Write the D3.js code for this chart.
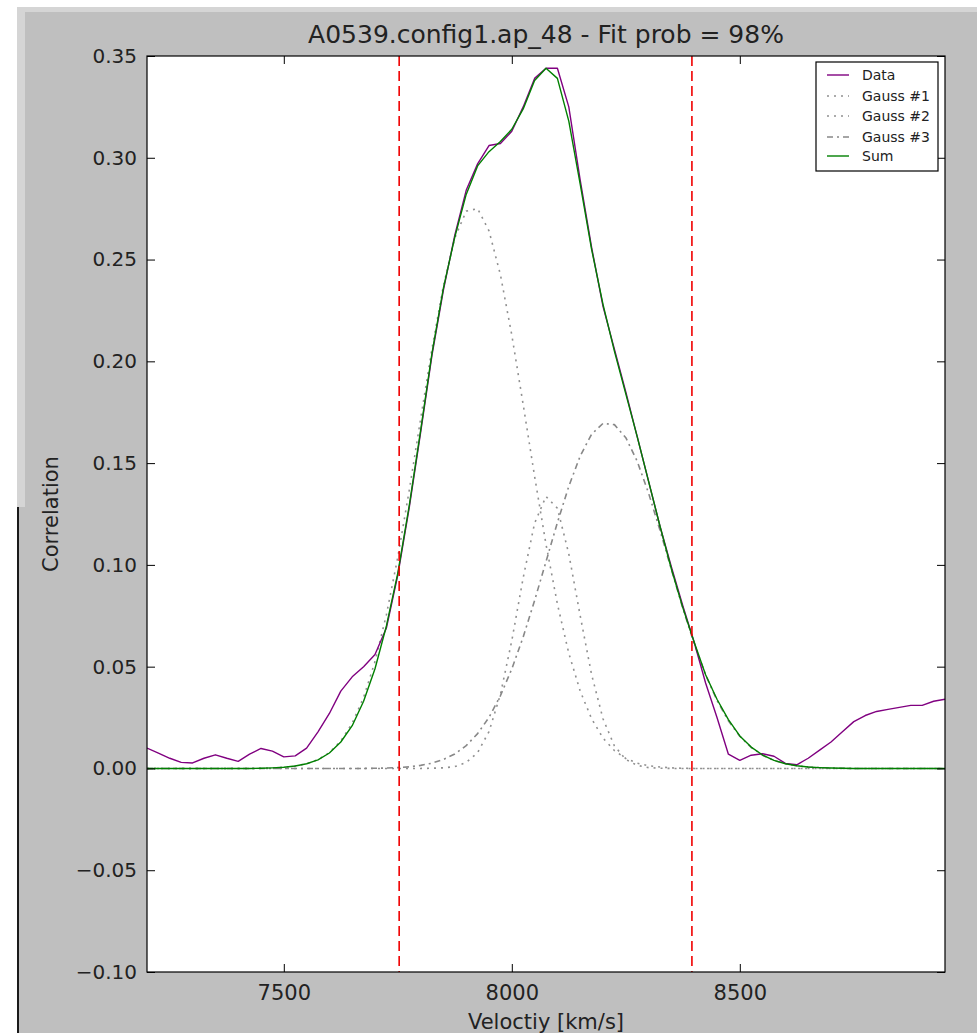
<!DOCTYPE html>
<html><head><meta charset="utf-8">
<script src="https://cdn.jsdelivr.net/npm/d3@7"></script>
<style>html,body{margin:0;padding:0;background:#fff;}svg{display:block;font-family:"DejaVu Sans",sans-serif;}</style>
</head><body>
<script>
const velocity = [7200,7225,7250,7275,7300,7325,7350,7375,7400,7425,7450,7475,7500,7525,7550,7575,7600,7625,7650,7675,7700,7725,7750,7775,7800,7825,7850,7875,7900,7925,7950,7975,8000,8025,8050,8075,8100,8125,8150,8175,8200,8225,8250,8275,8300,8325,8350,8375,8400,8425,8450,8475,8500,8525,8550,8575,8600,8625,8650,8675,8700,8725,8750,8775,8800,8825,8850,8875,8900,8925,8950];
const dataSeries = [0.010,0.0075,0.005,0.003,0.0027,0.005,0.0067,0.005,0.0035,0.007,0.0098,0.0085,0.0057,0.0062,0.010,0.018,0.027,0.038,0.045,0.050,0.056,0.069,0.095,0.128,0.165,0.203,0.235,0.262,0.284,0.297,0.306,0.307,0.313,0.325,0.339,0.344,0.344,0.325,0.289,0.256,0.227,0.206,0.185,0.163,0.141,0.119,0.099,0.080,0.062,0.042,0.025,0.007,0.004,0.0065,0.0072,0.006,0.0025,0.0018,0.005,0.009,0.013,0.018,0.023,0.026,0.028,0.029,0.030,0.031,0.031,0.033,0.034];
const gauss1 = [0,0,0,0,0,0,0,0,0,0,0.0001,0.0003,0.0006,0.0012,0.0023,0.0043,0.0078,0.0135,0.0222,0.0349,0.0525,0.0755,0.1038,0.1365,0.1716,0.2063,0.2371,0.2606,0.2738,0.2750,0.2641,0.2426,0.2129,0.1787,0.1435,0.1101,0.0808,0.0566,0.0380,0.0244,0.0149,0.0088,0.0049,0.0026,0.0013,0.0007,0.0003,0.0001,0,0,0,0,0,0,0,0,0,0,0,0,0,0,0,0,0,0,0,0,0,0,0];
const gauss2 = [0,0,0,0,0,0,0,0,0,0,0,0,0,0,0,0,0,0,0,0,0,0,0,0,0,0.0001,0.0003,0.0009,0.0029,0.0078,0.0181,0.0363,0.0628,0.0937,0.1205,0.1336,0.1278,0.1054,0.0750,0.0461,0.0244,0.0111,0.0044,0.0015,0.0004,0.0001,0,0,0,0,0,0,0,0,0,0,0,0,0,0,0,0,0,0,0,0,0,0,0,0,0];
const gauss3 = [0,0,0,0,0,0,0,0,0,0,0,0,0,0,0,0,0,0,0,0,0.0001,0.0002,0.0004,0.0008,0.0015,0.0026,0.0044,0.0071,0.0112,0.0171,0.0251,0.0357,0.0489,0.0646,0.0825,0.1016,0.1208,0.1386,0.1535,0.1642,0.1695,0.1689,0.1625,0.1509,0.1352,0.1170,0.0977,0.0787,0.0613,0.0460,0.0334,0.0234,0.0158,0.0103,0.0065,0.0039,0.0023,0.0013,0.0007,0.0004,0.0002,0.0001,0,0,0,0,0,0,0,0,0];
const sumSeries = [0,0,0,0,0,0,0,0,0,0,0.0001,0.0003,0.0006,0.0012,0.0023,0.0042,0.0076,0.013,0.021,0.033,0.049,0.070,0.096,0.129,0.166,0.204,0.236,0.261,0.282,0.296,0.303,0.308,0.314,0.324,0.338,0.344,0.339,0.318,0.287,0.255,0.228,0.205,0.184,0.163,0.141,0.119,0.098,0.079,0.062,0.046,0.034,0.024,0.016,0.0105,0.0066,0.004,0.0023,0.0013,0.0007,0.0004,0.0002,0.0001,0,0,0,0,0,0,0,0,0];
const windowLines = [7753, 8395];
const xTicks = [7500, 8000, 8500];
const yTicks = [-0.10,-0.05,0.00,0.05,0.10,0.15,0.20,0.25,0.30,0.35];
const legendLabels = ["Data","Gauss #1","Gauss #2","Gauss #3","Sum"];
const titleText = "A0539.config1.ap_48 - Fit prob = 98%";
const xLabel = "Veloctiy [km/s]";
const yLabel = "Correlation";

const W = 977, H = 1033;
const L = 147, R = 945, T = 56, B = 972;
const svg = d3.select("body").append("svg").attr("width", W).attr("height", H);

// figure background (screenshot frame)
svg.append("rect").attr("x",17).attr("y",7).attr("width",W-17).attr("height",H-7).attr("fill","#bfbfbf");
svg.append("rect").attr("x",17).attr("y",7).attr("width",W-17).attr("height",5).attr("fill","#d5d5d5");
svg.append("rect").attr("x",17).attr("y",7).attr("width",8).attr("height",500).attr("fill","#d5d5d5");
svg.append("rect").attr("x",17).attr("y",507).attr("width",2).attr("height",H-507).attr("fill","#1a1a1a");

const x = d3.scaleLinear().domain([7200, 8950]).range([L, R]);
const y = d3.scaleLinear().domain([-0.10, 0.35]).range([B, T]);

svg.append("rect").attr("x",L).attr("y",T).attr("width",R-L).attr("height",B-T).attr("fill","#fff");

svg.append("defs").append("clipPath").attr("id","clip").append("rect")
  .attr("x",L).attr("y",T).attr("width",R-L).attr("height",B-T);

const plot = svg.append("g").attr("clip-path","url(#clip)");
const line = ys => d3.line().x((d,i)=>x(velocity[i])).y(d=>y(d))(ys);

const styles = [
  {data: dataSeries, stroke:"#800080", w:1.4, dash:null},
  {data: gauss1, stroke:"#909090", w:1.6, dash:"2,5"},
  {data: gauss2, stroke:"#909090", w:1.6, dash:"2,5"},
  {data: gauss3, stroke:"#888888", w:1.6, dash:"6,4,2,4"},
  {data: sumSeries, stroke:"#008000", w:1.4, dash:null}
];
[1,2,3,0,4].forEach(k=>{
  const s = styles[k];
  plot.append("path").attr("d", line(s.data)).attr("fill","none")
    .attr("stroke", s.stroke).attr("stroke-width", s.w)
    .attr("stroke-dasharray", s.dash).attr("stroke-linejoin","round");
});
windowLines.forEach(v=>{
  plot.append("line").attr("x1",x(v)).attr("x2",x(v)).attr("y1",T).attr("y2",B)
    .attr("stroke","#f00000").attr("stroke-width",1.6).attr("stroke-dasharray","10,5");
});

const fmt = v => d3.format(".2f")(v).replace("-", "\u2212");
const gL = svg.append("g").attr("transform",`translate(${L},0)`)
  .call(d3.axisLeft(y).tickValues(yTicks).tickFormat(fmt).tickSizeInner(-8).tickSizeOuter(0).tickPadding(10));
const gB = svg.append("g").attr("transform",`translate(0,${B})`)
  .call(d3.axisBottom(x).tickValues(xTicks).tickFormat(d3.format("d")).tickSizeInner(-8).tickSizeOuter(0).tickPadding(13));
const gT = svg.append("g").attr("transform",`translate(0,${T})`)
  .call(d3.axisTop(x).tickValues(xTicks).tickFormat("").tickSizeInner(-8).tickSizeOuter(0));
const gR = svg.append("g").attr("transform",`translate(${R},0)`)
  .call(d3.axisRight(y).tickValues(yTicks).tickFormat("").tickSizeInner(-8).tickSizeOuter(0));
[gL,gB,gT,gR].forEach(g=>{
  g.select(".domain").remove();
  g.selectAll(".tick line").attr("stroke","#000").attr("stroke-width",1);
  g.selectAll("text").attr("fill","#222").attr("font-family","DejaVu Sans");
});
gL.selectAll("text").attr("font-size",20);
gB.selectAll("text").attr("font-size",21);
svg.append("rect").attr("x",L).attr("y",T).attr("width",R-L).attr("height",B-T)
  .attr("fill","none").attr("stroke","#000").attr("stroke-width",1.2);

svg.append("text").attr("x",(L+R)/2).attr("y",43).attr("text-anchor","middle")
  .attr("font-size",25).attr("fill","#222").text(titleText);
svg.append("text").attr("x",(L+R)/2).attr("y",1029).attr("text-anchor","middle")
  .attr("font-size",21).attr("fill","#222").text(xLabel);
svg.append("text").attr("transform",`translate(58,${(T+B)/2}) rotate(-90)`).attr("text-anchor","middle")
  .attr("font-size",21).attr("fill","#222").text(yLabel);

// legend
const lg = svg.append("g");
lg.append("rect").attr("x",816).attr("y",62).attr("width",122).attr("height",109)
  .attr("fill","#fff").attr("stroke","#000").attr("stroke-width",1.2);
const legY = [75, 96, 116, 137, 156];
legendLabels.forEach((lab,i)=>{
  const s = styles[i];
  lg.append("line").attr("x1",827).attr("x2",849).attr("y1",legY[i]).attr("y2",legY[i])
    .attr("stroke",s.stroke).attr("stroke-width",s.w).attr("stroke-dasharray",s.dash);
  lg.append("text").attr("x",862).attr("y",legY[i]).attr("dy","0.35em")
    .attr("font-size",14).attr("fill","#222").text(lab);
});
</script>
</body></html>
